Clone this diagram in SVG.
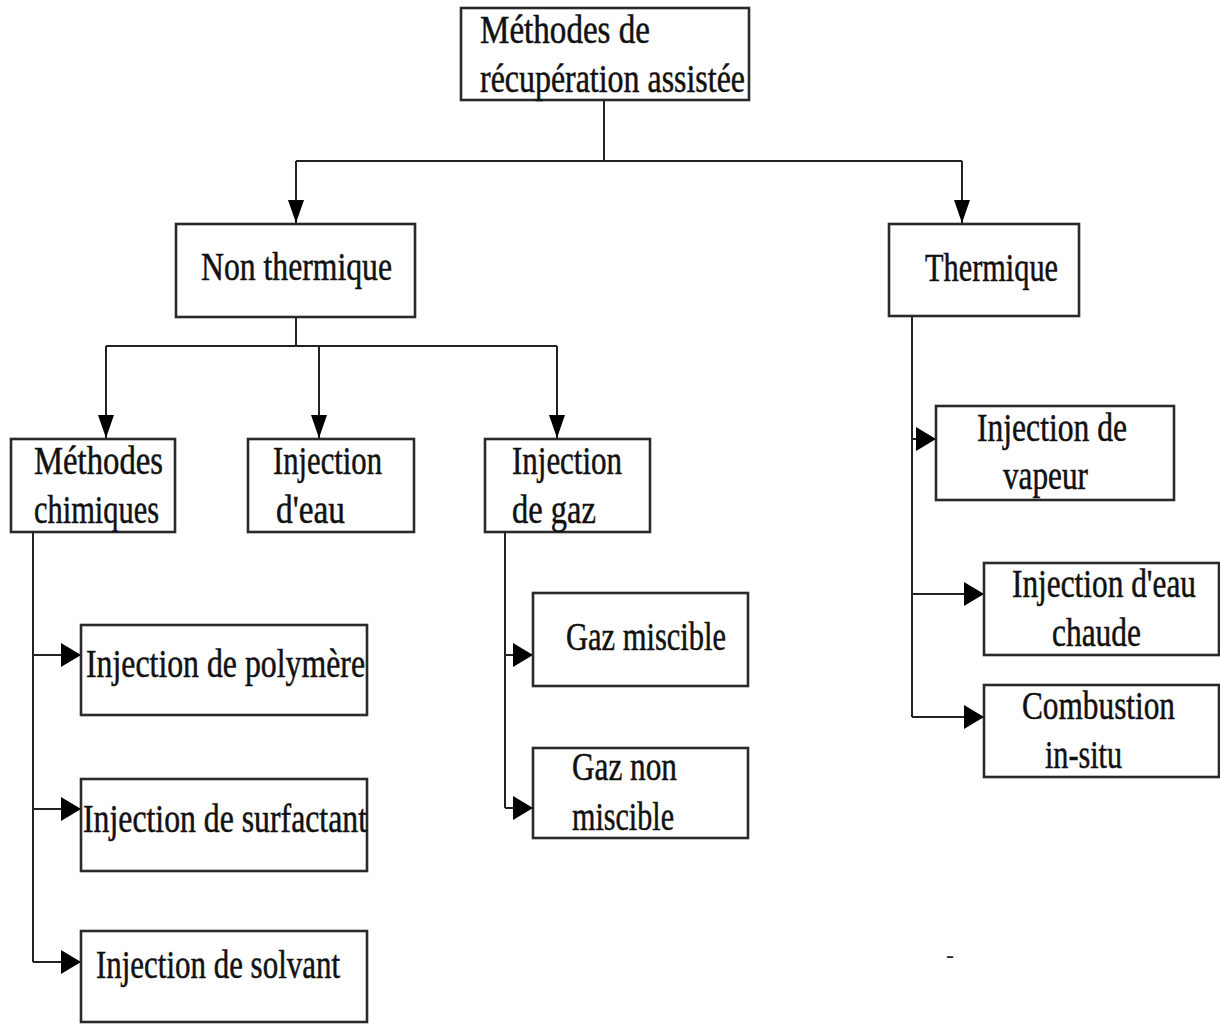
<svg xmlns="http://www.w3.org/2000/svg" width="1220" height="1025" viewBox="0 0 1220 1025">
<style>
.box{fill:#fff;stroke:#2a2a2a;stroke-width:2.6}
.lbl{font-family:"Liberation Serif","Times New Roman",serif;font-size:39px;fill:#111;stroke:#111;stroke-width:0.5}
.con{fill:none;stroke:#222;stroke-width:2}
</style>
<defs>
<marker id="ad" markerUnits="userSpaceOnUse" markerWidth="23" markerHeight="16" viewBox="0 0 23 16" refX="23" refY="8" orient="auto"><path d="M0,0 L23,8 L0,16 z" fill="#000"/></marker>
<marker id="ar" markerUnits="userSpaceOnUse" markerWidth="20" markerHeight="24" viewBox="0 0 20 24" refX="20" refY="12" orient="auto"><path d="M0,0 L20,12 L0,24 z" fill="#000"/></marker>
</defs>
<rect width="1220" height="1025" fill="#fff"/>
<g id="connectors">
<path class="con" d="M604,100 V161 M296,161 H962"/>
<path class="con" d="M296,161 V223" marker-end="url(#ad)"/>
<path class="con" d="M962,161 V223" marker-end="url(#ad)"/>
<path class="con" d="M296,317 V346 M106,346 H557"/>
<path class="con" d="M106,346 V438" marker-end="url(#ad)"/>
<path class="con" d="M319,346 V438" marker-end="url(#ad)"/>
<path class="con" d="M557,346 V438" marker-end="url(#ad)"/>
<path class="con" d="M33,532 V962"/>
<path class="con" d="M33,655 H81" marker-end="url(#ar)"/>
<path class="con" d="M33,809 H81" marker-end="url(#ar)"/>
<path class="con" d="M33,962 H81" marker-end="url(#ar)"/>
<path class="con" d="M505,532 V808"/>
<path class="con" d="M505,655 H533" marker-end="url(#ar)"/>
<path class="con" d="M505,808 H533" marker-end="url(#ar)"/>
<path class="con" d="M912,316 V717"/>
<path class="con" d="M912,439 H936" marker-end="url(#ar)"/>
<path class="con" d="M912,594 H984" marker-end="url(#ar)"/>
<path class="con" d="M912,717 H984" marker-end="url(#ar)"/>
</g>
<g id="n-root">
<rect class="box" x="461" y="8" width="288" height="92"/>
<text class="lbl" x="480" y="43" textLength="170" lengthAdjust="spacingAndGlyphs">Méthodes de</text>
<text class="lbl" x="480" y="92" textLength="265" lengthAdjust="spacingAndGlyphs">récupération assistée</text>
</g>
<g id="n-nonthermique">
<rect class="box" x="176" y="224" width="239" height="93"/>
<text class="lbl" x="201" y="280" textLength="191" lengthAdjust="spacingAndGlyphs">Non thermique</text>
</g>
<g id="n-thermique">
<rect class="box" x="889" y="224" width="190" height="92"/>
<text class="lbl" x="925" y="281" textLength="133" lengthAdjust="spacingAndGlyphs">Thermique</text>
</g>
<g id="n-chimiques">
<rect class="box" x="11" y="439" width="164" height="93"/>
<text class="lbl" x="34" y="474" textLength="129" lengthAdjust="spacingAndGlyphs">Méthodes</text>
<text class="lbl" x="34" y="523" textLength="125" lengthAdjust="spacingAndGlyphs">chimiques</text>
</g>
<g id="n-eau">
<rect class="box" x="248" y="439" width="166" height="93"/>
<text class="lbl" x="273" y="474" textLength="109" lengthAdjust="spacingAndGlyphs">Injection</text>
<text class="lbl" x="276" y="523" textLength="69" lengthAdjust="spacingAndGlyphs">d'eau</text>
</g>
<g id="n-gaz">
<rect class="box" x="485" y="439" width="165" height="93"/>
<text class="lbl" x="512" y="474" textLength="110" lengthAdjust="spacingAndGlyphs">Injection</text>
<text class="lbl" x="512" y="523" textLength="84" lengthAdjust="spacingAndGlyphs">de gaz</text>
</g>
<g id="n-polymere">
<rect class="box" x="81" y="625" width="286" height="90"/>
<text class="lbl" x="86" y="677" textLength="279" lengthAdjust="spacingAndGlyphs">Injection de polymère</text>
</g>
<g id="n-surfactant">
<rect class="box" x="81" y="779" width="286" height="92"/>
<text class="lbl" x="83" y="832" textLength="284" lengthAdjust="spacingAndGlyphs">Injection de surfactant</text>
</g>
<g id="n-solvant">
<rect class="box" x="81" y="931" width="286" height="91"/>
<text class="lbl" x="96" y="978" textLength="244" lengthAdjust="spacingAndGlyphs">Injection de solvant</text>
</g>
<g id="n-gazmiscible">
<rect class="box" x="533" y="593" width="215" height="93"/>
<text class="lbl" x="566" y="650" textLength="160" lengthAdjust="spacingAndGlyphs">Gaz miscible</text>
</g>
<g id="n-gaznonmiscible">
<rect class="box" x="533" y="748" width="215" height="90"/>
<text class="lbl" x="572" y="780" textLength="105" lengthAdjust="spacingAndGlyphs">Gaz non</text>
<text class="lbl" x="572" y="830" textLength="102" lengthAdjust="spacingAndGlyphs">miscible</text>
</g>
<g id="n-vapeur">
<rect class="box" x="936" y="406" width="238" height="94"/>
<text class="lbl" x="977" y="441" textLength="150" lengthAdjust="spacingAndGlyphs">Injection de</text>
<text class="lbl" x="1003" y="489" textLength="85" lengthAdjust="spacingAndGlyphs">vapeur</text>
</g>
<g id="n-eauchaude">
<rect class="box" x="984" y="563" width="235" height="92"/>
<text class="lbl" x="1012" y="597" textLength="184" lengthAdjust="spacingAndGlyphs">Injection d'eau</text>
<text class="lbl" x="1052" y="646" textLength="89" lengthAdjust="spacingAndGlyphs">chaude</text>
</g>
<g id="n-combustion">
<rect class="box" x="984" y="685" width="235" height="92"/>
<text class="lbl" x="1022" y="719" textLength="153" lengthAdjust="spacingAndGlyphs">Combustion</text>
<text class="lbl" x="1045" y="768" textLength="77" lengthAdjust="spacingAndGlyphs">in-situ</text>
</g>
<text x="946" y="963" font-family="Liberation Serif, serif" font-size="24" fill="#222">-</text>
</svg>
